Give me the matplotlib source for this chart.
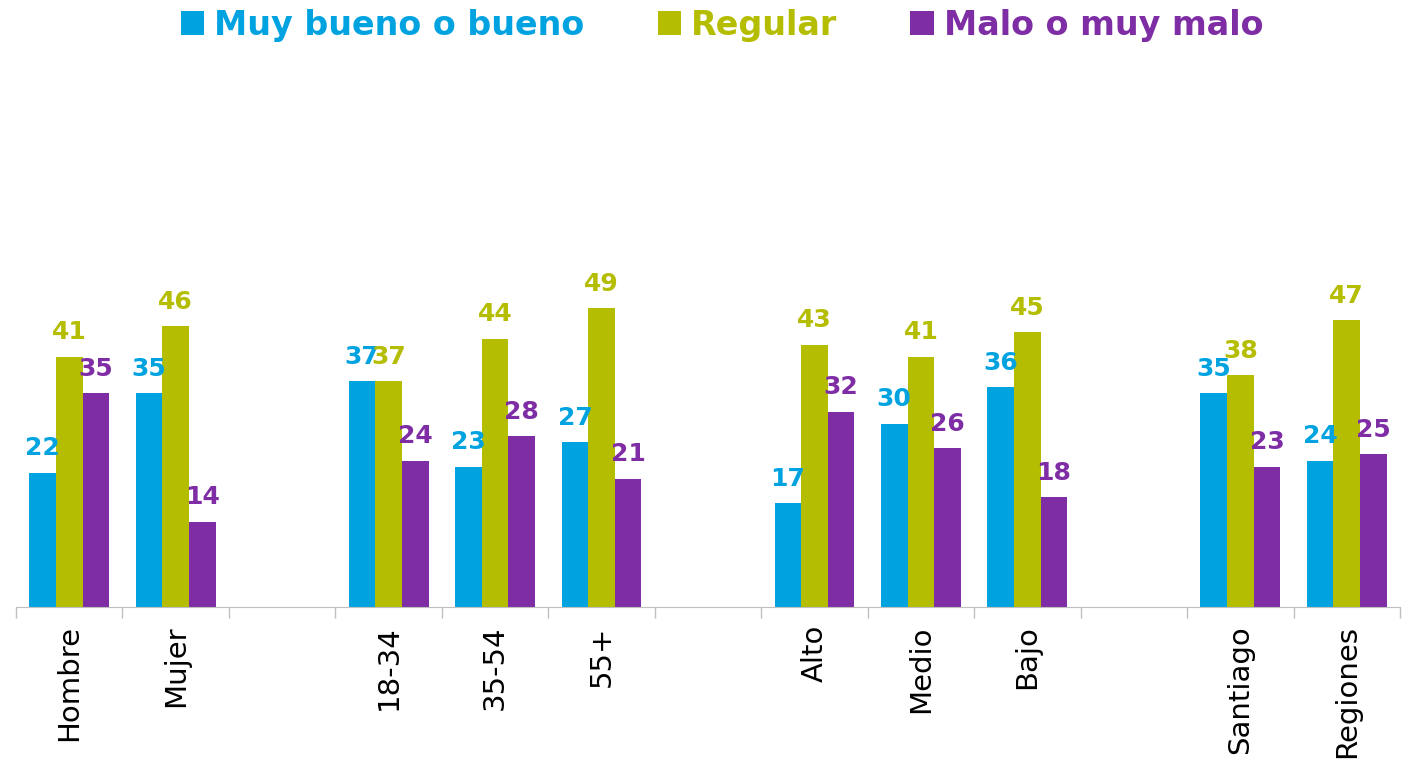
import numpy as np
import matplotlib
matplotlib.use('Agg')
from matplotlib import pyplot as plt
from matplotlib.patches import Patch

# categories, blank slots separate the groups
categories = ['Hombre', 'Mujer', '', '18-34', '35-54', '55+', '',
              'Alto', 'Medio', 'Bajo', '', 'Santiago', 'Regiones']
series_names = ['Muy bueno o bueno', 'Regular', 'Malo o muy malo']
bueno = [22, 35, np.nan, 37, 23, 27, np.nan, 17, 30, 36, np.nan, 35, 24]
regular = [41, 46, np.nan, 37, 44, 49, np.nan, 43, 41, 45, np.nan, 38, 47]
malo = [35, 14, np.nan, 24, 28, 21, np.nan, 32, 26, 18, np.nan, 23, 25]

colors = ['#00A3E0', '#B5BD00', '#7F2DA5']

fig = plt.figure(figsize=(14.1, 7.63), dpi=100)
ax = fig.add_axes([16 / 1410, 156 / 763, 1384 / 1410, 607 / 763])

x = np.arange(len(categories))
w = 0.25
for i, (vals, c) in enumerate(zip([bueno, regular, malo], colors)):
    vals = np.array(vals, dtype=float)
    xs = x + (i - 1) * w
    ax.bar(xs, np.nan_to_num(vals), width=w, color=c, edgecolor='none')
    for xi, v in zip(xs, vals):
        if np.isnan(v):
            continue
        ax.annotate('%d' % v, (xi, v), xytext=(0, 9), textcoords='offset points',
                    ha='center', va='bottom', color=c, fontsize=18,
                    fontweight='bold')

ax.set_xlim(-0.5, len(categories) - 0.5)
ax.set_ylim(0, 99.5)
ax.set_xticks(x)
ax.set_xticklabels(categories, rotation=90, va='top', ha='center', fontsize=21)
ax.set_xticks(np.arange(-0.5, len(categories)), minor=True)
ax.tick_params(axis='x', which='major', length=0, pad=13)
ax.tick_params(axis='x', which='minor', length=8, color='#BFBFBF', width=1)
ax.set_yticks([])
for s in ['top', 'right', 'left']:
    ax.spines[s].set_visible(False)
ax.spines['bottom'].set_color('#BFBFBF')

handles = [Patch(facecolor=c, edgecolor='none') for c in colors]
fig.legend(handles, series_names, loc='upper center', bbox_to_anchor=(0.512, 1.028),
           ncol=3, frameon=False, labelcolor=colors,
           prop={'size': 24, 'weight': 'bold'},
           handlelength=0.7, handleheight=0.7, handletextpad=0.3,
           columnspacing=2.2)

fig.savefig('out.png', dpi=100)
